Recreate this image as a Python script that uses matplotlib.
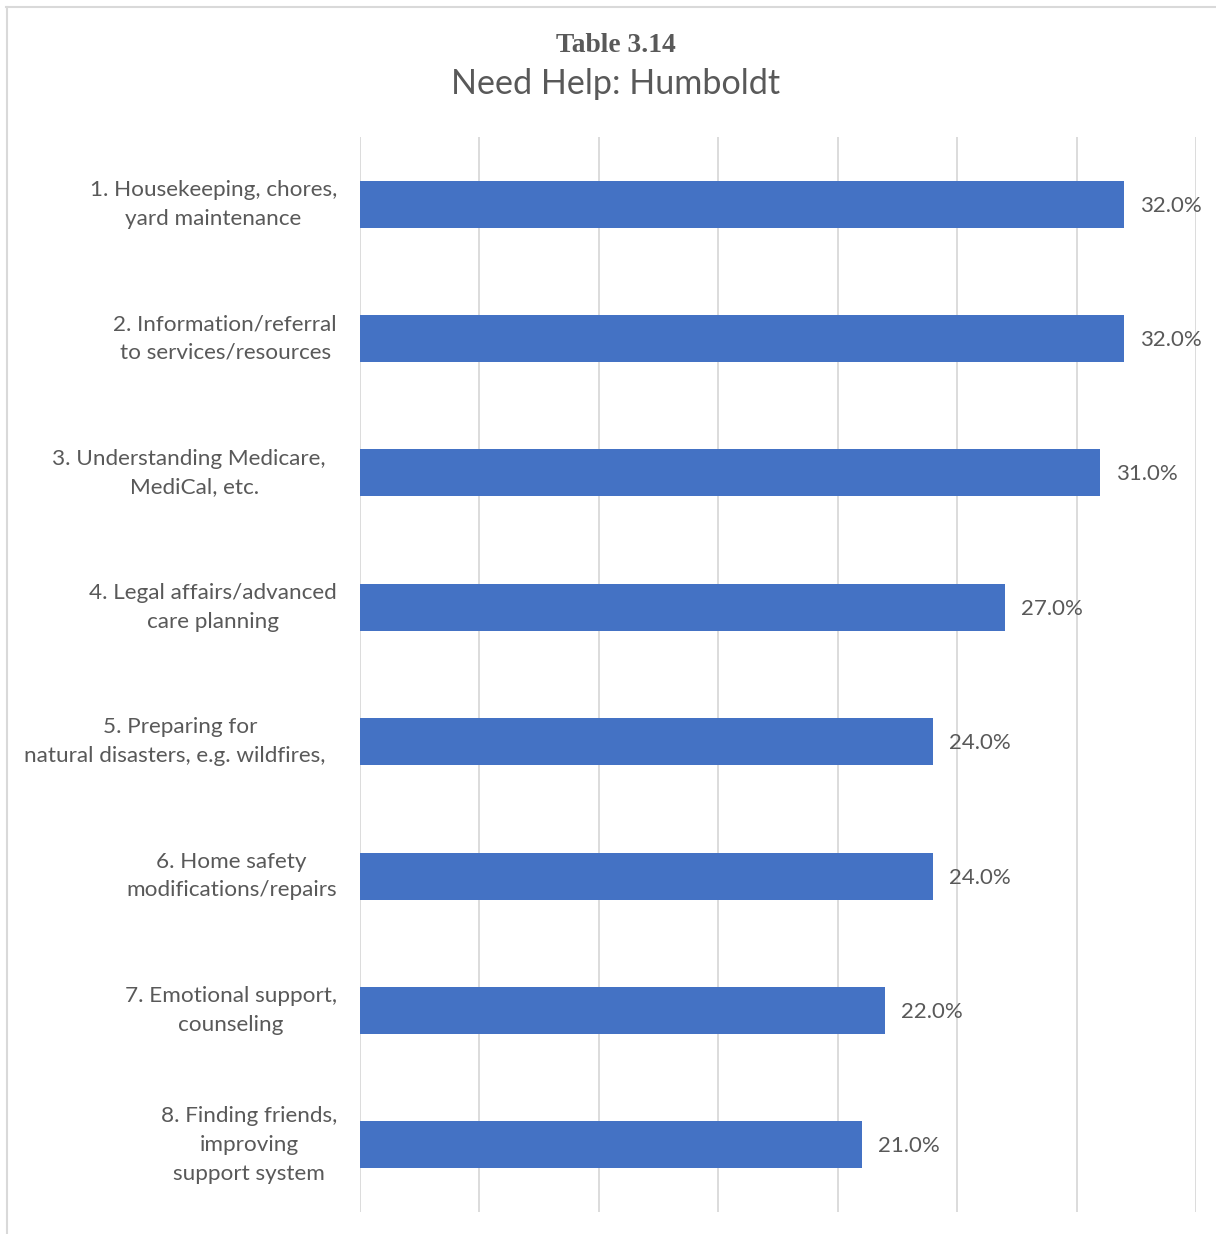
import matplotlib
matplotlib.use("Agg")
import matplotlib.pyplot as plt
from matplotlib.lines import Line2D

categories = [
    "1. Housekeeping, chores,\nyard maintenance",
    "2. Information/referral\nto services/resources",
    "3. Understanding Medicare,  \nMediCal, etc.",
    "4. Legal affairs/advanced\ncare planning",
    "5. Preparing for\nnatural disasters, e.g. wildfires,  ",
    "6. Home safety\nmodifications/repairs",
    "7. Emotional support,\ncounseling",
    "8. Finding friends,\nimproving\nsupport system",
]
values = [32.0, 32.0, 31.0, 27.0, 24.0, 24.0, 22.0, 21.0]
value_labels = ["32.0%", "32.0%", "31.0%", "27.0%", "24.0%", "24.0%", "22.0%", "21.0%"]
x_ticks = [0, 5, 10, 15, 20, 25, 30, 35]

W, H = 1216, 1234
fig = plt.figure(figsize=(W / 100, H / 100), dpi=100)
fig.patch.set_facecolor("white")

left, right, top, bottom = 360, 1196, 137, 1212
ax = fig.add_axes([left / W, 1 - bottom / H, (right - left) / W, (bottom - top) / H])

text_color = "#595959"
font = ["Lato", "DejaVu Sans"]

ypos = list(range(len(categories)))
ax.barh(ypos, values, height=0.35, color="#4472C4", zorder=3)
ax.set_ylim(len(categories) - 0.5, -0.5)
ax.set_xlim(0, 35)
ax.set_xticks(x_ticks)
ax.set_xticklabels([])
ax.tick_params(axis="x", length=0)
ax.set_yticks(ypos)
ax.set_yticklabels([])
ax.tick_params(axis="y", length=0)
ax.grid(axis="x", color="#d9d9d9", linewidth=1.3, zorder=0)
for s in ax.spines.values():
    s.set_visible(False)

label_x = (337 - left) / (right - left)
for y, c in zip(ypos, categories):
    ax.text(label_x, y, c, transform=ax.get_yaxis_transform(), ha="right", va="center",
            multialignment="center", fontsize=16.2, linespacing=1.55,
            color=text_color, family=font)

for y, v, t in zip(ypos, values, value_labels):
    ax.annotate(t, (v, y), xytext=(16, -1.5), textcoords="offset pixels",
                va="center", ha="left", fontsize=16, color=text_color, family=font)

fig.text(616 / W, 1 - 45 / H, "Table 3.14", ha="center", va="center",
         fontsize=19.8, fontweight="bold", color=text_color,
         family=["Liberation Serif", "DejaVu Serif"])
fig.text(616 / W, 1 - 84 / H, "Need Help: Humboldt", ha="center", va="center",
         fontsize=24.6, color=text_color, family=font)

# outer frame (top and left edges visible)
fig.add_artist(Line2D([6 / W, 1], [1 - 6.5 / H, 1 - 6.5 / H], color="#d9d9d9", linewidth=1.5,
                      transform=fig.transFigure))
fig.add_artist(Line2D([6.5 / W, 6.5 / W], [0, 1 - 6.5 / H], color="#d9d9d9", linewidth=1.5,
                      transform=fig.transFigure))

fig.savefig("out.png", dpi=100)
